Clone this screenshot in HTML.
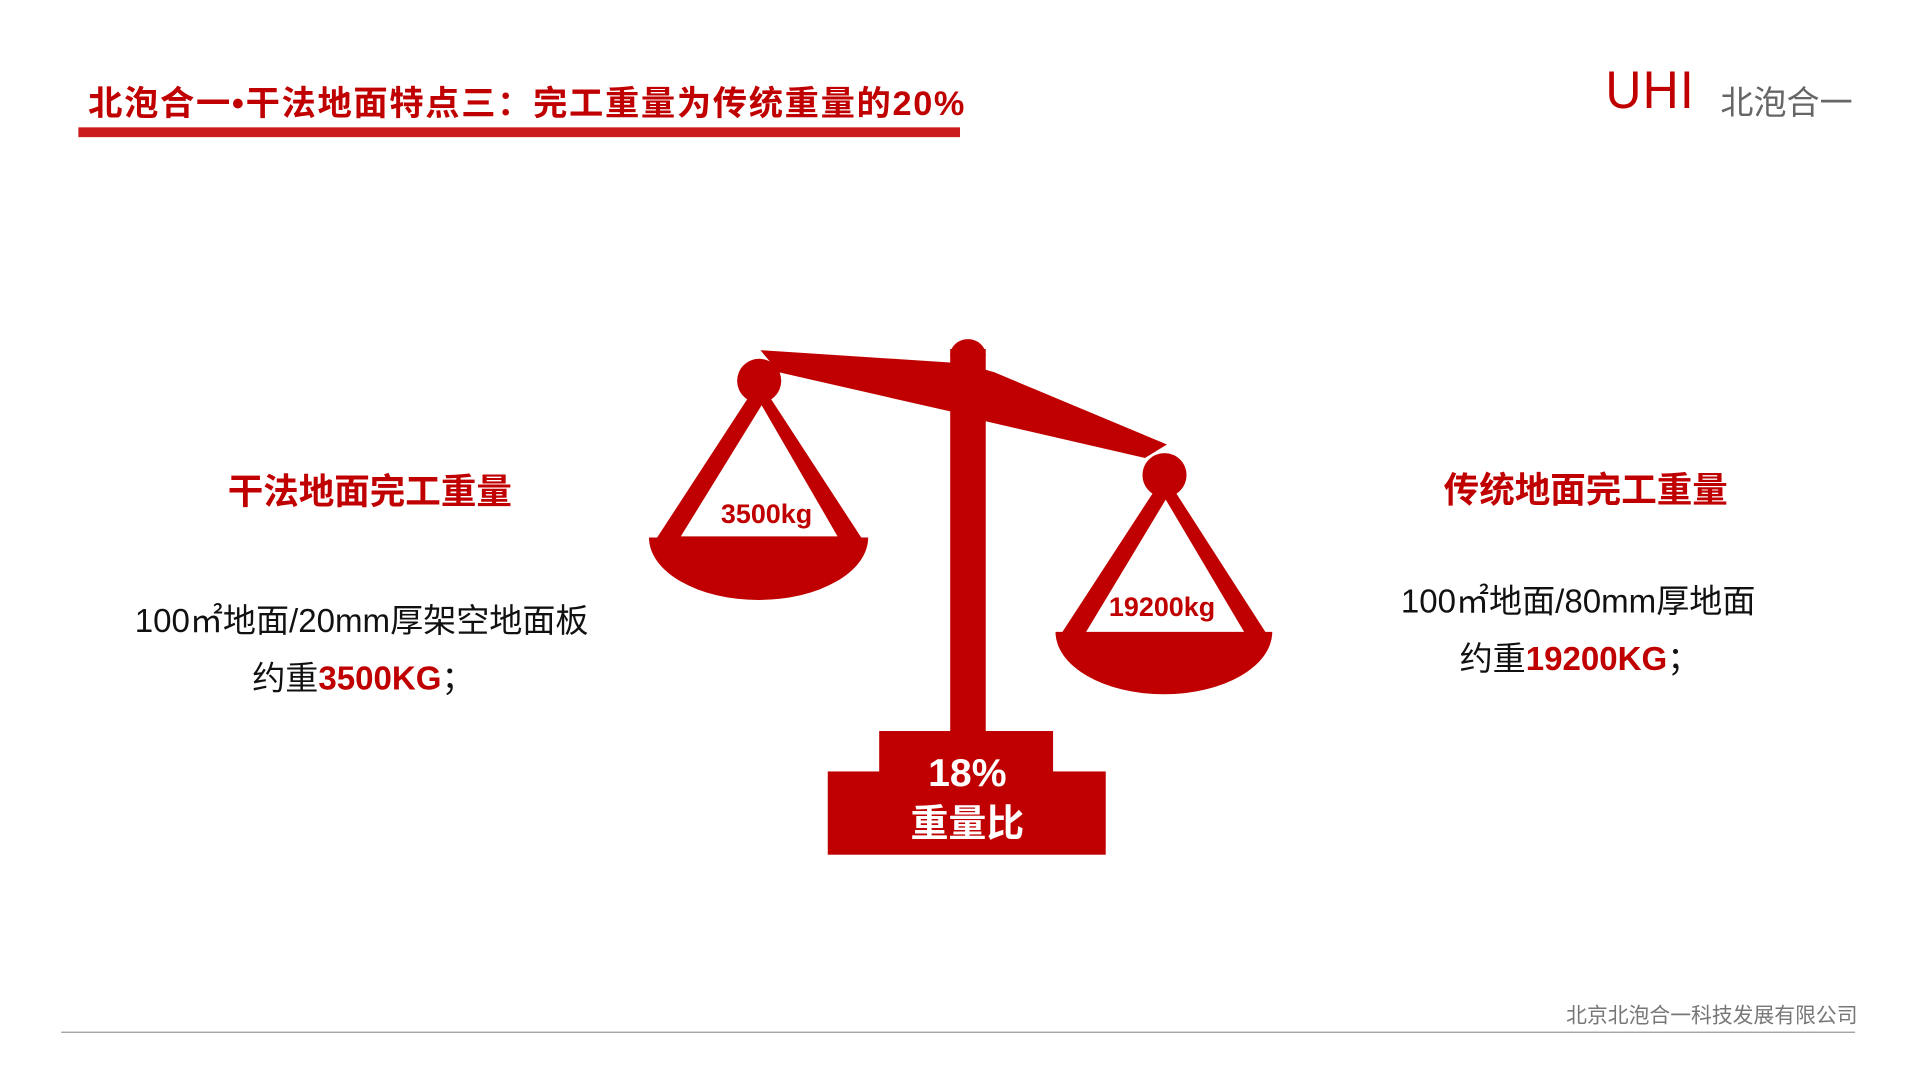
<!DOCTYPE html>
<html><head><meta charset="utf-8"><style>
html,body{margin:0;padding:0;background:#fff;width:1920px;height:1080px;overflow:hidden}
#s{position:absolute;left:0;top:0;width:1568px;height:882px;transform:scale(1.2245);transform-origin:0 0;font-family:"Liberation Sans","Noto Sans CJK SC",sans-serif}
.a{position:absolute;white-space:nowrap}
.r{color:#c00000;font-weight:bold}
</style></head><body><div id="s">
<div class="a r" style="left:72px;top:63px;font-size:28px;letter-spacing:1.35px">北泡合一•干法地面特点三：完工重量为传统重量的20%</div>
<div class="a" style="left:64px;top:104px;width:720px;height:8px;background:#cc1b1b"></div>
<div class="a" style="left:1311px;top:50px;font-size:43px;color:#c00000;font-weight:300;letter-spacing:1px;transform:scaleX(0.95);transform-origin:0 0">UHI</div>
<div class="a" style="left:1405px;top:62px;font-size:27px;color:#666">北泡合一</div>

<svg class="a" style="left:0;top:0" width="1568" height="882">
<g fill="#c00000">
<polygon points="621,286 776,296 805,302 812,304 953,363 935,374 805,344 776,336 636,304"/>
<rect x="776" y="285" width="29" height="315"/>
<ellipse cx="790.5" cy="290" rx="14.5" ry="13"/>
<circle cx="620" cy="311" r="18"/>
<polygon points="620,311 536,440 704,440"/>
<path d="M530,439 L709,439 A89.5,51 0 0 1 530,439 Z"/>
<circle cx="951" cy="388" r="18"/>
<polygon points="951,388 867,517 1034,517"/>
<path d="M862,516 L1039,516 A88.5,51 0 0 1 862,516 Z"/>
<rect x="718" y="597" width="142" height="36"/>
<rect x="676" y="630" width="227" height="68"/>
</g>
<g fill="#fff">
<polygon points="622,331 556,438 684,438"/>
<polygon points="952,408 887,516 1016,516"/>
</g>
<g font-family="Liberation Sans, Noto Sans CJK SC, sans-serif" font-weight="bold">
<text x="626" y="427" font-size="22" fill="#c00000" text-anchor="middle">3500kg</text>
<text x="949" y="503" font-size="22" fill="#c00000" text-anchor="middle">19200kg</text>
<text x="790" y="642" font-size="32" fill="#fff" text-anchor="middle">18%</text>
<text x="790" y="683" font-size="31" fill="#fff" text-anchor="middle">重量比</text>
</g>
<line x1="50" y1="843" x2="1515" y2="843" stroke="#999" stroke-width="1"/>
</svg>

<div class="a r" style="left:186px;top:378px;font-size:29px">干法地面完工重量</div>
<div class="a" style="left:110px;top:485px;font-size:27px;color:#111">100㎡地面/20mm厚架空地面板</div>
<div class="a" style="left:206px;top:532px;font-size:27px;color:#111">约重<span class="r">3500KG</span>；</div>

<div class="a r" style="left:1179px;top:377px;font-size:29px">传统地面完工重量</div>
<div class="a" style="left:1144px;top:469px;font-size:27px;color:#111">100㎡地面/80mm厚地面</div>
<div class="a" style="left:1192px;top:516px;font-size:27px;color:#111">约重<span class="r">19200KG</span>；</div>

<div class="a" style="left:1279px;top:815px;font-size:17px;color:#777">北京北泡合一科技发展有限公司</div>
</div></body></html>
